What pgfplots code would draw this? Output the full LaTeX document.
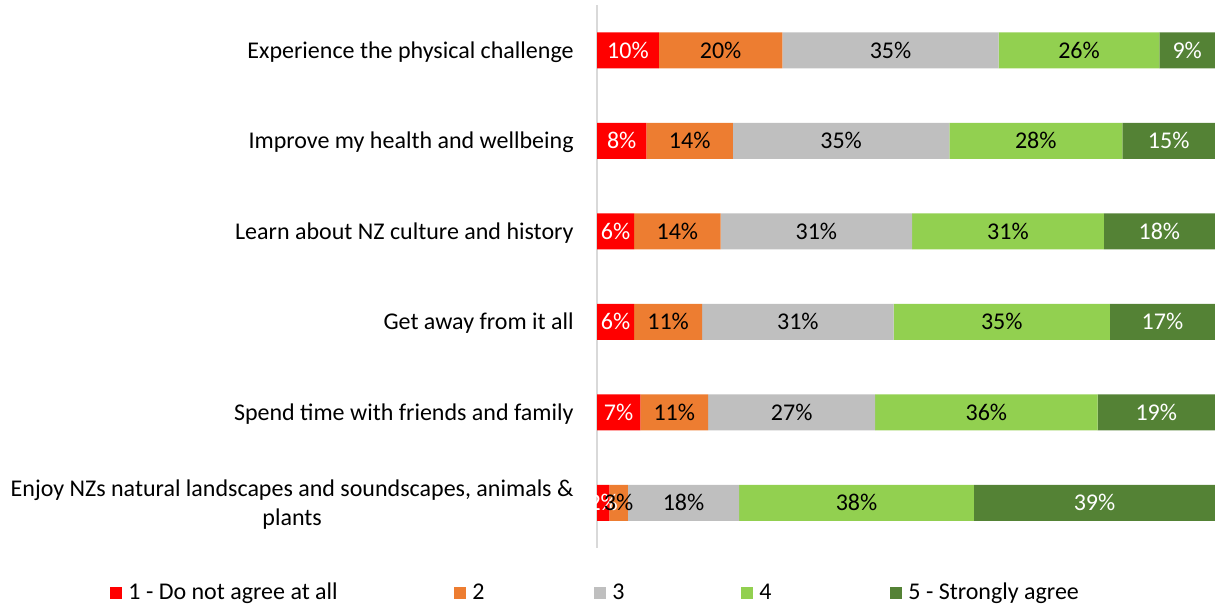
\documentclass[border=0pt]{standalone}
\usepackage{pgfplots}
\usepackage{pgfplotstable}
\pgfplotsset{compat=1.18}
\usepackage{fontspec}
\setmainfont{Carlito}
\definecolor{cA}{HTML}{FF0000}
\definecolor{cB}{HTML}{ED7D31}
\definecolor{cC}{HTML}{BFBFBF}
\definecolor{cD}{HTML}{92D050}
\definecolor{cE}{HTML}{548235}
\definecolor{axgray}{HTML}{D9D9D9}
\pgfplotstableread{
y a b c d e
1 10 20 35 26 9
2 8 14 35 28 15
3 6 14 31 31 18
4 6 11 31 35 17
5 7 11 27 36 19
6 2 3 18 38 39
}\data
\newcommand{\fnt}{\fontsize{12bp}{14.6bp}\selectfont}
\begin{document}
\begin{tikzpicture}
\path[use as bounding box] (0,0) rectangle (607.5bp,303.5bp);
\pgfplotsset{
  common/.style={
    at={(298.5bp,29.5bp)}, anchor=south west,
    scale only axis, width=309bp, height=271.5bp,
    xmin=0, xmax=100, ymin=0.5, ymax=6.5, y dir=reverse,
  }
}
\begin{axis}[common,
  xbar stacked, bar width=18bp,
  hide x axis,
  axis y line*=left,
  y axis line style={draw=axgray, line width=1bp},
  ytick={1,2,3,4,5,6},
  yticklabels={Experience the physical challenge, Improve my health and wellbeing, Learn about NZ culture and history, Get away from it all, Spend time with friends and family, {Enjoy NZs natural landscapes and soundscapes, animals \&\\plants}},
  major tick length=0pt,
  yticklabel style={font=\fnt, align=center, inner sep=0pt, xshift=-11.5bp, yshift=-0.8bp},
  legend columns=5,
  legend style={at={(-0.788,-0.0830)}, anchor=west, draw=none, inner sep=0pt,
    font=\fnt, nodes={inner sep=0pt},
    /tikz/every odd column/.append style={column sep=3bp},
    /tikz/every even column/.append style={column sep=0pt}},
  legend image code/.code={\fill[#1] (0bp,-3bp) rectangle (6bp,3bp);},
]
\addplot[fill=cA, draw=none] table[x=a, y=y]{\data};
\addlegendentry{\makebox[163bp][l]{1 - Do not agree at all}}
\addplot[fill=cB, draw=none] table[x=b, y=y]{\data};
\addlegendentry{\makebox[61bp][l]{2}}
\addplot[fill=cC, draw=none] table[x=c, y=y]{\data};
\addlegendentry{\makebox[64.5bp][l]{3}}
\addplot[fill=cD, draw=none] table[x=d, y=y]{\data};
\addlegendentry{\makebox[65.5bp][l]{4}}
\addplot[fill=cE, draw=none] table[x=e, y=y]{\data};
\addlegendentry{5 - Strongly agree}
\end{axis}
\begin{axis}[common, hide axis,
  /pgf/number format/assume math mode=true,
  nodes near coords={\pgfmathprintnumber[assume math mode=true]{\pgfplotspointmeta}\%},
  every node near coord/.append style={font=\fnt, anchor=center, inner sep=0pt},
]
\addplot[draw=none, mark=none, nodes near coords style={text=white}, point meta=\thisrow{a}]
  table[x expr=\thisrow{a}/2, y=y]{\data};
\addplot[draw=none, mark=none, nodes near coords style={text=black}, point meta=\thisrow{b}]
  table[x expr=\thisrow{a}+\thisrow{b}/2, y=y]{\data};
\addplot[draw=none, mark=none, nodes near coords style={text=black}, point meta=\thisrow{c}]
  table[x expr=\thisrow{a}+\thisrow{b}+\thisrow{c}/2, y=y]{\data};
\addplot[draw=none, mark=none, nodes near coords style={text=black}, point meta=\thisrow{d}]
  table[x expr=\thisrow{a}+\thisrow{b}+\thisrow{c}+\thisrow{d}/2, y=y]{\data};
\addplot[draw=none, mark=none, nodes near coords style={text=white}, point meta=\thisrow{e}]
  table[x expr=\thisrow{a}+\thisrow{b}+\thisrow{c}+\thisrow{d}+\thisrow{e}/2, y=y]{\data};
\end{axis}
\end{tikzpicture}
\end{document}
